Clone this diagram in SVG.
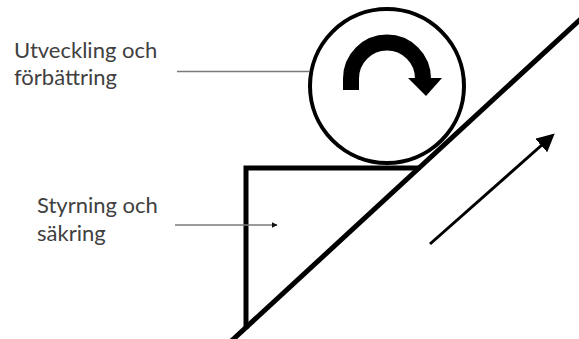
<svg xmlns="http://www.w3.org/2000/svg" width="579" height="339" viewBox="0 0 579 339">
  <style>
    .lbl { font-family: Lato, "Liberation Sans", sans-serif; font-size: 22px; fill: #404040; }
    .thick { fill: none; stroke: #000; stroke-width: 5; }
    .ptr { fill: none; stroke: #7a7a7a; stroke-width: 1.5; }
  </style>
  <defs>
    <marker id="ptrHead" viewBox="0 0 10 10" refX="9" refY="5" markerWidth="6" markerHeight="8" markerUnits="userSpaceOnUse" orient="auto">
      <path d="M0,0 L10,5 L0,10 Z" fill="#111"/>
    </marker>
    <marker id="bigHead" viewBox="0 0 10 10" refX="8" refY="5" markerWidth="18" markerHeight="18" markerUnits="userSpaceOnUse" orient="auto">
      <path d="M0,0 L10,5 L0,10 Z" fill="#000"/>
    </marker>
  </defs>

  <g id="slope">
    <line x1="227" y1="345" x2="585" y2="15" class="thick" stroke-width="5.5"/>
  </g>

  <g id="wedge">
    <polyline points="420,168 246,168 246,329" class="thick" stroke-linejoin="miter"/>
  </g>

  <g id="wheel">
    <circle cx="387" cy="86" r="77" fill="none" stroke="#000" stroke-width="4"/>
    <path d="M351,90 L351,78.5 A36,36 0 0 1 423,78.5" fill="none" stroke="#000" stroke-width="16"/>
    <polygon points="408,78 442,78 426,96" fill="#000"/>
  </g>

  <g id="direction">
    <line x1="430" y1="244" x2="552" y2="136" stroke="#000" stroke-width="3" marker-end="url(#bigHead)"/>
  </g>

  <g id="label-utveckling">
    <text class="lbl" x="14" y="58">Utveckling och</text>
    <text class="lbl" x="14" y="85">förbättring</text>
  </g>

  <g id="label-styrning">
    <text class="lbl" x="37" y="213">Styrning och</text>
    <text class="lbl" x="37" y="241">säkring</text>
  </g>

  <g id="connectors">
    <line x1="177" y1="71.5" x2="309" y2="71.5" class="ptr"/>
    <line x1="175" y1="225" x2="277" y2="225" class="ptr" marker-end="url(#ptrHead)"/>
  </g>
</svg>
